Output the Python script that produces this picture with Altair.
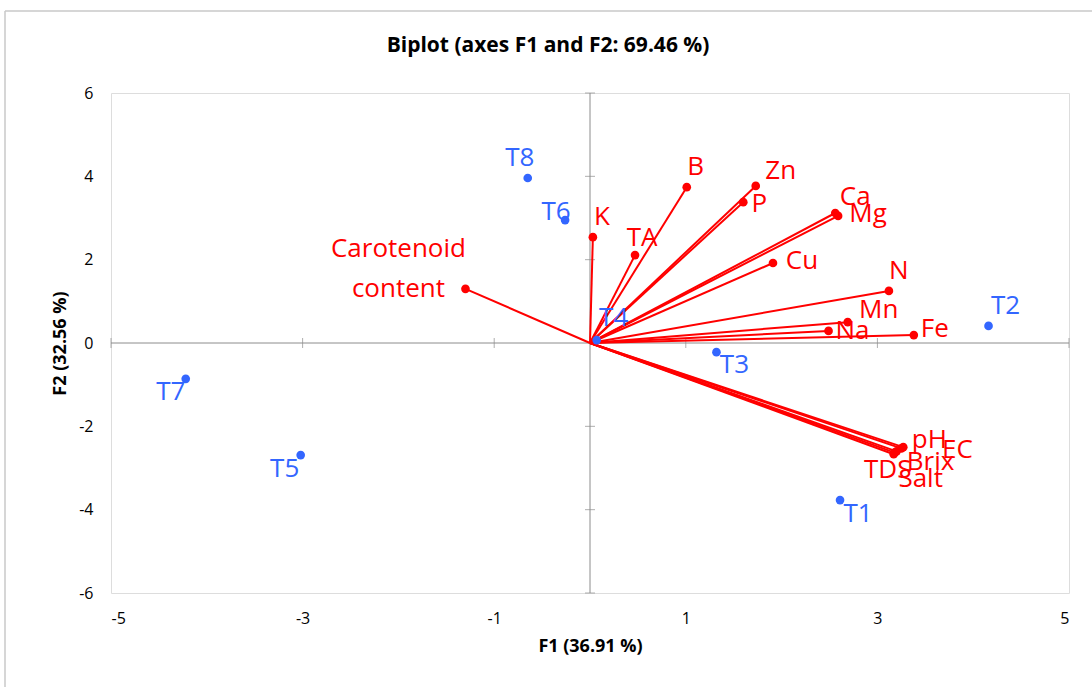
import altair as alt
import pandas as pd

# Observations (blue)
obs_names = ["T1", "T2", "T3", "T4", "T5", "T6", "T7", "T8"]
obs_f1 = [2.61, 4.16, 1.32, 0.07, -3.02, -0.26, -4.22, -0.65]
obs_f2 = [-3.77, 0.41, -0.22, 0.07, -2.69, 2.95, -0.86, 3.96]

# Variables (red)
var_names = ["Carotenoid\ncontent", "K", "TA", "B", "Zn", "P", "Ca", "Mg", "Cu",
             "N", "Mn", "Na", "Fe", "pH", "EC", "Brix", "TDS", "Salt"]
var_f1 = [-1.30, 0.03, 0.47, 1.01, 1.73, 1.60, 2.56, 2.59, 1.91,
          3.12, 2.69, 2.49, 3.38, 3.27, 3.25, 3.20, 3.17, 3.18]
var_f2 = [1.30, 2.54, 2.11, 3.74, 3.77, 3.38, 3.12, 3.05, 1.92,
          1.25, 0.50, 0.29, 0.19, -2.50, -2.53, -2.60, -2.67, -2.63]

x_ticks = [-5, -3, -1, 1, 3, 5]
y_ticks = [-6, -4, -2, 0, 2, 4, 6]

TITLE = "Biplot (axes F1 and F2: 69.46 %)"

obs = pd.DataFrame({"name": obs_names, "f1": obs_f1, "f2": obs_f2})
var = pd.DataFrame({"name": var_names, "f1": var_f1, "f2": var_f2})
var["o1"] = 0.0
var["o2"] = 0.0
xt = pd.DataFrame({"v": x_ticks, "z": 0.0})
yt = pd.DataFrame({"v": [v for v in y_ticks if v != 0]})
yt["z"] = 0.0
zero = pd.DataFrame({"z": [0.0], "t": [TITLE]})

RED = "#ff0000"
BLUE = "#3366ff"
GRAY = "#8c8c8c"
FONT = "Open Sans"

xs = alt.Scale(domain=[-5, 5], nice=False, zero=False)
ys = alt.Scale(domain=[-6, 6], nice=False, zero=False)

X = lambda f: alt.X(f, scale=xs, axis=alt.Axis(
    values=x_ticks, title="F1 (36.91 %)", grid=False, ticks=False, domain=False,
    labelExpr="'' + datum.value",
    labelPadding=17, labelFontSize=16, labelColor="#000000", labelFont=FONT,
    titleFont=FONT, titleFontSize=18, titleFontWeight="bold", titleColor="#000000",
    titlePadding=11))
Y = lambda f: alt.Y(f, scale=ys, axis=alt.Axis(
    values=y_ticks, title="F2 (32.56 %)", grid=False, ticks=False, domain=False,
    labelExpr="'' + datum.value",
    labelPadding=18, labelFontSize=16, labelColor="#000000", labelFont=FONT,
    titleFont=FONT, titleFontSize=18, titleFontWeight="bold", titleColor="#000000",
    titlePadding=9))

# zero lines and cross ticks
zero_x = alt.Chart(zero).mark_rule(color=GRAY, strokeWidth=1).encode(
    x=X("z:Q"))
zero_y = alt.Chart(zero).mark_rule(color=GRAY, strokeWidth=1).encode(
    y=Y("z:Q"))
tick_x = alt.Chart(xt).mark_tick(color=GRAY, orient="vertical", size=10, thickness=1).encode(
    x=X("v:Q"), y=Y("z:Q"))
tick_y = alt.Chart(yt).mark_tick(color=GRAY, orient="horizontal", size=10, thickness=1).encode(
    y=Y("v:Q"), x=X("z:Q"))

# outer frame
frame_l = alt.Chart(zero).mark_rule(color="#c8c8c8", strokeWidth=1.5).encode(
    x=alt.value(-106), y=alt.value(-82), y2=alt.value(600))
frame_t = alt.Chart(zero).mark_rule(color="#c8c8c8", strokeWidth=1.5).encode(
    x=alt.value(-106), x2=alt.value(990), y=alt.value(-82))

# chart title
title = alt.Chart(zero).mark_text(
    font=FONT, fontSize=21, fontWeight="bold", color="#000000",
    align="center", baseline="middle").encode(
    x=alt.value(437), y=alt.value(-47), text="t:N")

vectors = alt.Chart(var).mark_rule(color=RED, strokeWidth=2).encode(
    x=X("o1:Q"), y=Y("o2:Q"), x2="f1:Q", y2="f2:Q")
var_pts = alt.Chart(var).mark_circle(color=RED, opacity=1, size=75).encode(
    x=X("f1:Q"), y=Y("f2:Q"))
obs_pts = alt.Chart(obs).mark_circle(color=BLUE, opacity=1, size=75).encode(
    x=X("f1:Q"), y=Y("f2:Q"))

obs_off = {"T8": (-8, -20), "T6": (-9, -8), "T4": (17, -22), "T2": (17, -20),
           "T3": (18, 13), "T1": (18, 14), "T5": (-16, 14), "T7": (-15, 13)}
var_off = {"Carotenoid\ncontent": (-67, -40), "K": (9, -20), "TA": (7, -17),
           "B": (9, -20), "Zn": (25, -15), "P": (16, 2), "Ca": (20, -16),
           "Mg": (30, -2), "Cu": (29, -2), "N": (10, -20), "Mn": (31, -12),
           "Na": (24, 0), "Fe": (21, -6), "pH": (26, -7), "EC": (56, 2),
           "Brix": (34, 11), "TDS": (-6, 16), "Salt": (26, 26)}

labels = []
for n, (dx, dy) in obs_off.items():
    labels.append(alt.Chart(obs).transform_filter(alt.datum.name == n).mark_text(
        color=BLUE, font=FONT, fontSize=26, dx=dx, dy=dy, align="center",
        baseline="middle").encode(x=X("f1:Q"), y=Y("f2:Q"), text="name:N"))
for n, (dx, dy) in var_off.items():
    labels.append(alt.Chart(var).transform_filter(alt.datum.name == n).mark_text(
        color=RED, font=FONT, fontSize=26, dx=dx, dy=dy, align="center",
        baseline="middle", lineBreak="\n", lineHeight=40).encode(
        x=X("f1:Q"), y=Y("f2:Q"), text="name:N"))

chart = alt.layer(
    frame_l, frame_t, title, zero_x, zero_y, tick_x, tick_y,
    vectors, var_pts, obs_pts, *labels
).properties(
    width=958, height=500,
    autosize=alt.AutoSizeParams(type="none"),
    padding={"left": 111, "top": 93, "right": 23, "bottom": 94},
).configure_view(stroke="#a6a6a6", strokeWidth=2).configure(background="white")

chart.save("out.html", embed_options={"renderer": "svg", "actions": False})
